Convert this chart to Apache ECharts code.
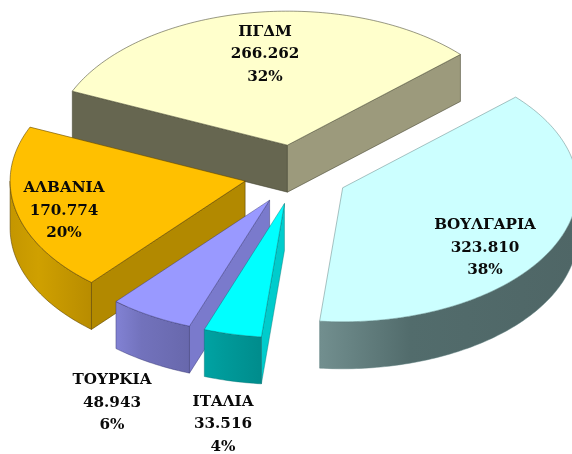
<!DOCTYPE html>
<html>
<head>
<meta charset="utf-8">
<style>html,body{margin:0;padding:0;background:#fff}#c{width:572px;height:454px}</style>
<script src="https://cdn.jsdelivr.net/npm/echarts@6/dist/echarts.min.js"></script>
</head>
<body>
<div id="c"></div>
<script>
// Data, clockwise from the first slice
const categories = ['ΒΟΥΛΓΑΡΙΑ', 'ΙΤΑΛΙΑ', 'ΤΟΥΡΚΙΑ', 'ΑΛΒΑΝΙΑ', 'ΠΓΔΜ'];
const values = [323810, 33516, 48943, 170774, 266262];
const percentLabels = ['38%', '4%', '6%', '20%', '32%'];

// Styles
const topColors = ['#CCFFFF', '#00FFFF', '#9999FF', '#FFC000', '#FFFFCC'];
const startWallColors = ['#516B6B', '#00CCCC', '#7A7ACC', '#B28900', '#666650'];
const endWallColors = ['#516B6B', '#009999', '#7373BF', '#B28900', '#9C9A7C'];
const arcStops = [
  ['#728F8F', '#526C6C', '#4F6666'],
  ['#00A3A3', '#009A9A', '#008C8C'],
  ['#8282D4', '#7272BC', '#6868AC'],
  ['#C49600', '#CFA000', '#B88C00'],
  ['#808066', '#808066', '#808066']
];
const edgeColors = ['rgba(90,125,125,.6)', 'rgba(0,110,110,.5)', 'rgba(50,50,110,.55)', 'rgba(90,65,0,.7)', 'rgba(70,70,50,.7)'];
const labelCenters = [[485, 248], [223, 424.5], [112, 403], [64, 211], [265, 54.5]];
const drawOrder = [4, 3, 0, 2, 1];

// Layout of the tilted pie
const CX = 296, CY = 174.5, RX = 235, RY = 134, DEPTH = 47, EXPLODE = 0.222, START_DEG = 47.4;

const total = values.reduce((a, b) => a + b, 0);
const fmt = v => String(v).replace(/\B(?=(\d{3})+$)/g, '.');
const rad = d => d * Math.PI / 180;

function sliceAngles(i) {
  let acc = 0;
  for (let k = 0; k < i; k++) acc += values[k];
  const a0 = START_DEG + acc / total * 360;
  return [a0, a0 + values[i] / total * 360];
}
function onRim(c, deg, dy) {
  return [c[0] + RX * Math.sin(rad(deg)), c[1] - RY * Math.cos(rad(deg)) + (dy || 0)];
}
function arcPoints(c, a0, a1, dy) {
  const pts = [], n = Math.max(2, Math.ceil(Math.abs(a1 - a0)));
  for (let k = 0; k <= n; k++) pts.push(onRim(c, a0 + (a1 - a0) * k / n, dy));
  return pts;
}

function renderItem(params, api) {
  const i = api.value(0);
  const [a0, a1] = sliceAngles(i);
  const mid = (a0 + a1) / 2;
  const c = [CX + EXPLODE * RX * Math.sin(rad(mid)), CY - EXPLODE * RY * Math.cos(rad(mid))];
  const stroke = { stroke: edgeColors[i], lineWidth: 0.8, lineJoin: 'round' };
  const children = [];
  const wall = (deg, color) => {
    const p = onRim(c, deg);
    children.push({ type: 'polygon', shape: { points: [c, p, [p[0], p[1] + DEPTH], [c[0], c[1] + DEPTH]] },
      style: Object.assign({ fill: color }, stroke) });
  };
  // radial walls facing the viewer
  if (Math.sin(rad(a0)) < 0) wall(a0, startWallColors[i]);
  if (Math.sin(rad(a1)) > 0) wall(a1, endWallColors[i]);
  // outer rim, front half only
  const lo = Math.max(a0, 90), hi = Math.min(a1, 270);
  if (hi > lo) {
    const up = arcPoints(c, lo, hi), down = arcPoints(c, hi, lo, DEPTH);
    const st = arcStops[i];
    children.push({ type: 'polygon', shape: { points: up.concat(down) },
      style: Object.assign({ fill: new echarts.graphic.LinearGradient(0, 0, 1, 0, [
        { offset: 0, color: st[0] }, { offset: 0.35, color: st[1] }, { offset: 1, color: st[2] }]) }, stroke) });
  }
  // top face
  children.push({ type: 'polygon', shape: { points: [c].concat(arcPoints(c, a0, a1)) },
    style: Object.assign({ fill: topColors[i] }, stroke) });
  return { type: 'group', children };
}

function renderLabel(params, api) {
  const i = api.value(0);
  return { type: 'text', x: labelCenters[i][0], y: labelCenters[i][1], z2: 100, style: {
    text: categories[i] + '\n' + fmt(values[i]) + '\n' + percentLabels[i],
    fill: '#0a0a0a', align: 'center', verticalAlign: 'middle',
    font: 'bold 15.2px "DejaVu Serif", serif', lineHeight: 22.5 } };
}

const chart = echarts.init(document.getElementById('c'), null, { renderer: 'canvas' });
chart.setOption({
  backgroundColor: '#fff',
  animation: false,
  series: [
    { type: 'custom', coordinateSystem: 'none', silent: true, z: 2, renderItem,
      data: drawOrder.map(i => [i, values[i]]) },
    { type: 'custom', coordinateSystem: 'none', silent: true, z: 3, renderItem: renderLabel,
      data: categories.map((n, i) => [i, values[i]]) }
  ]
});
</script>
</body>
</html>
